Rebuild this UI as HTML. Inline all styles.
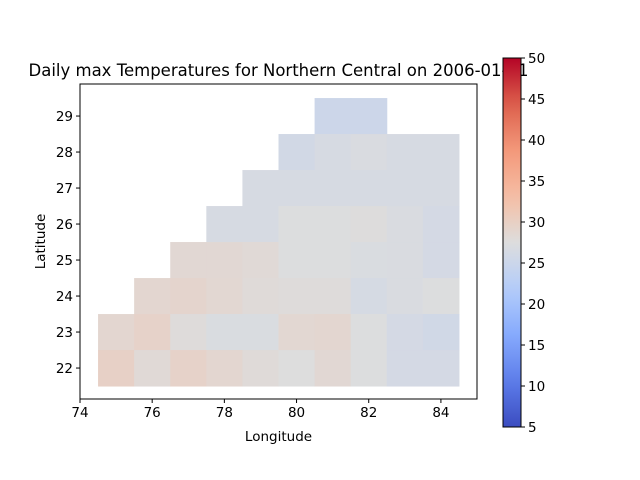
<!DOCTYPE html>
<html><head><meta charset="utf-8"><style>body{margin:0;background:#fff}svg{display:block}text{font-family:"DejaVu Sans","Liberation Sans",sans-serif;fill:#000}</style></head>
<body>
<svg id="chart" width="640" height="480" xmlns="http://www.w3.org/2000/svg"></svg>
<script>
const lons=[75,76,77,78,79,80,81,82,83,84];
const lats=[29,28,27,26,25,24,23,22];
const temps=[
 [null,null,null,null,null,null,25.2,25.2,null,null],
 [null,null,null,null,null,25.9,26.5,26.9,26.5,26.5],
 [null,null,null,null,26.5,26.5,26.5,26.5,26.5,26.5],
 [null,null,null,26.5,26.5,27.4,27.4,27.6,26.9,26.2],
 [null,null,28.5,28.5,28.2,27.4,27.4,27.0,26.9,26.2],
 [null,28.8,29.1,28.6,28.0,27.8,27.8,26.4,26.9,27.4],
 [28.8,29.5,27.8,27.0,27.0,28.6,28.8,27.4,26.2,25.7],
 [29.8,28.2,29.5,28.8,28.0,27.5,28.5,27.4,26.2,26.2]
];
const xTicks=[74,76,78,80,82,84];
const yTicks=[22,23,24,25,26,27,28,29];
const cbTicks=[5,10,15,20,25,30,35,40,45,50];
const vmin=5,vmax=50;
const NS="http://www.w3.org/2000/svg";
const svg=document.getElementById('chart');
const ax={l:80,r:477,t:84,b:399,x0:74,x1:85,y0:21.14,y1:29.89};
const X=v=>ax.l+(v-ax.x0)/(ax.x1-ax.x0)*(ax.r-ax.l);
const Y=v=>ax.b-(v-ax.y0)/(ax.y1-ax.y0)*(ax.b-ax.t);
const cb={l:503,r:521,t:58,b:427};
const CY=v=>cb.b-(v-vmin)/(vmax-vmin)*(cb.b-cb.t);
const stops=[[0,[59,76,192]],[0.125,[93,125,234]],[0.25,[134,170,253]],[0.375,[180,205,250]],[0.5,[221,221,221]],[0.625,[246,190,164]],[0.75,[243,152,122]],[0.875,[221,96,76]],[1,[180,4,38]]];
function cmap(t){t=Math.max(0,Math.min(1,t));for(let i=1;i<stops.length;i++){if(t<=stops[i][0]){const a=stops[i-1],b=stops[i],f=(t-a[0])/(b[0]-a[0]);return 'rgb('+a[1].map((c,k)=>Math.round(c+(b[1][k]-c)*f)).join(',')+')';}}}
function el(tag,attrs,txt){const e=document.createElementNS(NS,tag);for(const k in attrs)e.setAttribute(k,attrs[k]);if(txt!==undefined)e.textContent=txt;svg.appendChild(e);return e;}
lats.forEach((la,i)=>lons.forEach((lo,j)=>{const v=temps[i][j];if(v===null)return;
 const r=el('rect',{x:X(lo-0.5),y:Y(la+0.5),width:X(lo+0.5)-X(lo-0.5)+0.5,height:Y(la-0.5)-Y(la+0.5)+0.5,fill:cmap((v-vmin)/(vmax-vmin))});
 
 
}));
const frame=el('rect',{x:ax.l,y:ax.t,width:ax.r-ax.l,height:ax.b-ax.t,fill:'none',stroke:'#000','stroke-width':1});


xTicks.forEach(v=>{const x=X(v);el('line',{x1:x,x2:x,y1:ax.b,y2:ax.b+4,stroke:'#000'});
 const t=el('text',{x:x,y:ax.b+18,'text-anchor':'middle','font-size':13.5},v);
 
 });
yTicks.forEach(v=>{const y=Y(v);el('line',{x1:ax.l-4,x2:ax.l,y1:y,y2:y,stroke:'#000'});
 const t=el('text',{x:ax.l-7,y:y+5,'text-anchor':'end','font-size':13.5},v);
 
 });
const xt=el('text',{x:(ax.l+ax.r)/2,y:441,'text-anchor':'middle','font-size':13.5},'Longitude');


const yt=el('text',{x:0,y:0,'text-anchor':'middle','font-size':13.5,transform:'translate(45,'+((ax.t+ax.b)/2)+') rotate(-90)'},'Latitude');


const tt=el('text',{x:(ax.l+ax.r)/2,y:76,'text-anchor':'middle','font-size':16.5},'Daily max Temperatures for Northern Central on 2006-01-01');


const defs=el('defs',{});const g=document.createElementNS(NS,'linearGradient');g.setAttribute('id','cg');g.setAttribute('x1','0');g.setAttribute('y1','1');g.setAttribute('x2','0');g.setAttribute('y2','0');defs.appendChild(g);
for(let i=0;i<=20;i++){const s=document.createElementNS(NS,'stop');s.setAttribute('offset',i/20);s.setAttribute('stop-color',cmap(i/20));g.appendChild(s);}
const cbr=el('rect',{x:cb.l,y:cb.t,width:cb.r-cb.l,height:cb.b-cb.t,fill:'url(#cg)',stroke:'#000','stroke-width':1});


cbTicks.forEach(v=>{const y=CY(v);el('line',{x1:cb.r,x2:cb.r+4,y1:y,y2:y,stroke:'#000'});
 const t=el('text',{x:cb.r+7,y:y+5,'font-size':13.5},v);
 
 });
</script>
</body></html>
